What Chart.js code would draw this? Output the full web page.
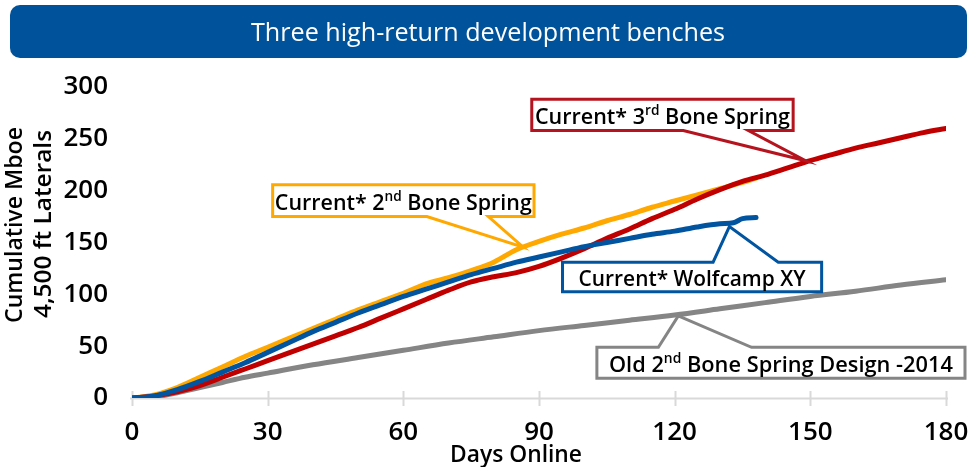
<!DOCTYPE html>
<html><head><meta charset="utf-8">
<script src="https://cdn.jsdelivr.net/npm/chart.js@4"></script>
<style>html,body{margin:0;padding:0;background:#fff;}#wrap{width:972px;height:467px;position:relative}</style>
</head><body><div id="wrap"><canvas id="c" width="972" height="467"></canvas></div>
<script>
// ---- data ----
const xTickValues = [0, 30, 60, 90, 120, 150, 180];
const yTickValues = [0, 50, 100, 150, 200, 250, 300];

const secondBoneDays = [0,5,10,15,20,25,30,35,40,45,50,55,60,65,70,75,80,85,90,95,100,105,110,115,120,125,130,135,138];
const secondBoneMboe = [0,3,10,20,30,40,49,58,67,76,85,93,101,110,116,123,131,143,151,158,164,171,177,184,190,196,202,208,212];

const thirdBoneDays = [0,5,10,15,20,25,30,35,40,45,50,55,60,65,70,75,80,85,90,95,100,105,110,115,120,125,130,135,140,145,150,155,160,165,170,175,180];
const thirdBoneMboe = [0,2,6,12,20,28,36,44,52,60,68,77,86,95,104,112,117,121,127,135,144,154,163,173,182,192,201,209,215,222,229,235,241,246,251,256,260];

const wolfcampDays = [0,5,10,15,20,25,30,35,40,45,50,55,60,65,70,75,80,85,90,95,100,105,110,115,120,125,130,133,135,138];
const wolfcampMboe = [0,2,8,16,25,34,44,54,64,73,82,90,98,105,112,119,125,131,136,141,146,150,154,158,161,165,168,169,173,174];

const oldDesignDays = [0,5,10,15,20,25,30,40,50,60,70,80,90,100,110,120,130,140,150,160,170,180];
const oldDesignMboe = [0,1,5,10,15,20,24,32,39,46,53,59,65,70,75,80,86,92,98,103,109,114];

const seriesNames = ['Current* 2nd Bone Spring', 'Current* 3rd Bone Spring', 'Current* Wolfcamp XY', 'Old 2nd Bone Spring Design -2014'];
const chartTitle = 'Three high-return development benches';
const yTitleLines = ['Cumulative Mboe', '4,500 ft Laterals'];
const xTitle = 'Days Online';

// ---- styles / layout ----
const COLORS = { orange: '#FFA800', red: '#C00000', blue: '#0054A0', gray: '#858585', banner: '#00539B' };
const FONT = '"Open Sans", "Liberation Sans", Arial, sans-serif';

function pts(xs, ys) { return xs.map((x, i) => ({ x: x, y: ys[i] })); }

// callouts: box in data units, pointer base & tip in data units
const callouts = [
  { parts: [['Current* 2', 0], ['nd', 1], [' Bone Spring', 0]], color: COLORS.orange,
    box: [31.1, 88.9, 205.6, 175], side: 'bottom', base: [65.2, 78.8], tip: [86.5, 145.5], textW: 257 },
  { parts: [['Current* 3', 0], ['rd', 1], [' Bone Spring', 0]], color: '#B5141E',
    box: [88.4, 146.2, 288.3, 258], side: 'bottom', base: [121.9, 136.3], tip: [149, 228.8], textW: 255 },
  { parts: [['Current* Wolfcamp XY', 0]], color: COLORS.blue,
    box: [95.2, 152.5, 131, 102.6], side: 'top', base: [128.5, 142.9], tip: [132.1, 165.3], textW: 227 },
  { parts: [['Old 2', 0], ['nd', 1], [' Bone Spring Design -2014', 0]], color: COLORS.gray,
    box: [102.8, 184.2, 48.9, 19], side: 'top', base: [116.4, 137.0], tip: [120.8, 79.2], textW: 344 }
];

function drawFitText(ctx, parts, cx, cy, size, targetW, color, weight) {
  weight = weight || 600;
  ctx.save();
  ctx.fillStyle = color;
  ctx.textBaseline = 'alphabetic';
  ctx.textAlign = 'left';
  let w = 0;
  const fontFor = p => weight + ' ' + (p[1] ? Math.round(size * 0.62) : size) + 'px ' + FONT;
  const widths = parts.map(p => {
    ctx.font = fontFor(p);
    const m = ctx.measureText(p[0]).width; w += m; return m;
  });
  const s = targetW ? targetW / w : 1;
  ctx.translate(cx, cy);
  ctx.scale(s, 1);
  let x = -w / 2;
  const base = size * 0.36;
  parts.forEach((p, i) => {
    ctx.font = fontFor(p);
    ctx.fillText(p[0], x, p[1] ? base - size * 0.38 : base);
    x += widths[i];
  });
  ctx.restore();
}

const deco = {
  id: 'deco',
  beforeDraw(chart) {
    const ctx = chart.ctx;
    ctx.save();
    ctx.fillStyle = '#fff';
    ctx.fillRect(0, 0, chart.width, chart.height);
    ctx.fillStyle = COLORS.banner;
    ctx.beginPath();
    ctx.roundRect(10, 5, 957, 53, 10);
    ctx.fill();
    ctx.restore();
    drawFitText(ctx, [[chartTitle, 0]], 488, 32, 25, 474, '#fff', 500);
  },
  beforeDatasetsDraw(chart) {
    const ctx = chart.ctx, xs = chart.scales.x, ys = chart.scales.y;
    const y0 = ys.getPixelForValue(0);
    ctx.save();
    ctx.strokeStyle = '#D9D9D9';
    ctx.lineWidth = 2;
    ctx.beginPath();
    ctx.moveTo(xs.getPixelForValue(0) - 2, y0 + 0.5);
    ctx.lineTo(xs.getPixelForValue(180) + 2, y0 + 0.5);
    xTickValues.forEach(v => {
      const px = Math.round(xs.getPixelForValue(v)) + 0.5;
      ctx.moveTo(px, y0 - 7); ctx.lineTo(px, y0 + 8);
    });
    ctx.stroke();
    ctx.restore();
  },
  afterDatasetsDraw(chart) {
    const ctx = chart.ctx, xs = chart.scales.x, ys = chart.scales.y;
    callouts.forEach(c => {
      const l = xs.getPixelForValue(c.box[0]), r = xs.getPixelForValue(c.box[1]);
      const t = ys.getPixelForValue(c.box[2]), b = ys.getPixelForValue(c.box[3]);
      const b1 = xs.getPixelForValue(c.base[0]), b2 = xs.getPixelForValue(c.base[1]);
      const tx = xs.getPixelForValue(c.tip[0]), ty = ys.getPixelForValue(c.tip[1]);
      ctx.save();
      ctx.beginPath();
      if (c.side === 'bottom') {
        ctx.moveTo(l, t); ctx.lineTo(r, t); ctx.lineTo(r, b); ctx.lineTo(b2, b);
        ctx.lineTo(tx, ty); ctx.lineTo(b1, b); ctx.lineTo(l, b);
      } else {
        ctx.moveTo(l, t); ctx.lineTo(b1, t); ctx.lineTo(tx, ty); ctx.lineTo(b2, t);
        ctx.lineTo(r, t); ctx.lineTo(r, b); ctx.lineTo(l, b);
      }
      ctx.closePath();
      ctx.fillStyle = '#fff';
      ctx.fill();
      ctx.strokeStyle = c.color;
      ctx.lineWidth = 3;
      ctx.lineJoin = 'miter';
      ctx.stroke();
      ctx.restore();
      drawFitText(ctx, c.parts, (l + r) / 2, (t + b) / 2 + 1, 22, c.textW, '#000', 600);
    });
  },
  afterDraw(chart) {
    const ctx = chart.ctx;
    ctx.save();
    ctx.translate(13, 225);
    ctx.rotate(-Math.PI / 2);
    drawFitText(ctx, [[yTitleLines[0], 0]], 0, 0, 24, 196, '#000', 600);
    ctx.restore();
    ctx.save();
    ctx.translate(42, 224);
    ctx.rotate(-Math.PI / 2);
    drawFitText(ctx, [[yTitleLines[1], 0]], 0, 0, 24, 188, '#000', 600);
    ctx.restore();
    drawFitText(ctx, [[xTitle, 0]], 516, 453, 24, 132, '#000', 600);
  }
};

const lineDefaults = { pointRadius: 0, borderWidth: 5, fill: false, cubicInterpolationMode: 'monotone', borderCapStyle: 'round', borderJoinStyle: 'round' };
const tickFont = { family: '"Open Sans", "Liberation Sans", sans-serif', size: 26, weight: 600 };

new Chart(document.getElementById('c'), {
  type: 'line',
  data: {
    datasets: [
      Object.assign({ label: seriesNames[3], data: pts(oldDesignDays, oldDesignMboe), borderColor: COLORS.gray, order: 4 }, lineDefaults),
      Object.assign({ label: seriesNames[0], data: pts(secondBoneDays, secondBoneMboe), borderColor: COLORS.orange, order: 3 }, lineDefaults),
      Object.assign({ label: seriesNames[1], data: pts(thirdBoneDays, thirdBoneMboe), borderColor: COLORS.red, order: 2 }, lineDefaults),
      Object.assign({ label: seriesNames[2], data: pts(wolfcampDays, wolfcampMboe), borderColor: COLORS.blue, order: 1 }, lineDefaults)
    ]
  },
  options: {
    responsive: false,
    animation: false,
    layout: { padding: { top: 87, right: 26, bottom: 0, left: 0 } },
    plugins: { legend: { display: false }, tooltip: { enabled: false }, title: { display: false } },
    scales: {
      x: {
        type: 'linear', min: 0, max: 180,
        afterBuildTicks: s => { s.ticks = xTickValues.map(v => ({ value: v })); },
        afterFit: s => { s.height = 69; s.paddingLeft = 0; s.paddingRight = 0; },
        grid: { display: false, drawTicks: false },
        border: { display: false },
        ticks: { color: '#000', padding: 19, maxRotation: 0, font: tickFont }
      },
      y: {
        min: 0, max: 300,
        afterBuildTicks: s => { s.ticks = yTickValues.map(v => ({ value: v })); },
        afterFit: s => { s.width = 132; s.paddingTop = 0; s.paddingBottom = 0; },
        grid: { display: false, drawTicks: false },
        border: { display: false },
        ticks: { color: '#000', padding: 24, font: tickFont }
      }
    }
  },
  plugins: [deco]
});
</script>
</body></html>
